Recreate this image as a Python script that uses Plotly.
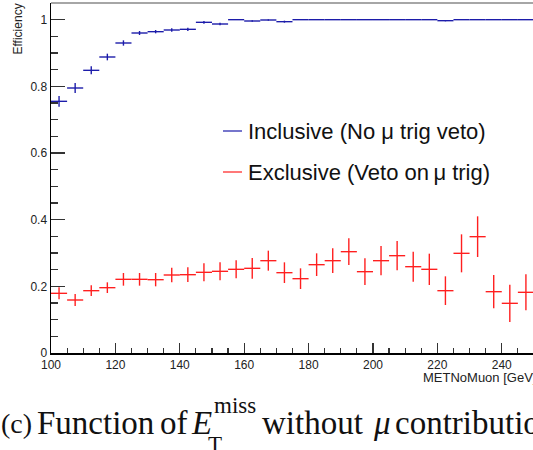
import plotly.graph_objects as go

# ---- data ----
bin_centers = [102.5 + 5 * i for i in range(30)]
bin_half_width = [2.5] * 30
inclusive = [0.755, 0.795, 0.848, 0.888, 0.930, 0.960, 0.964, 0.969, 0.971, 0.992,
             0.987, 1.000, 0.996, 0.999, 0.994, 1.000, 1.000, 1.000, 1.000, 1.000,
             1.000, 1.000, 1.000, 1.000, 0.997, 1.000, 1.000, 1.000, 1.000, 1.000]
inclusive_err = [0.016, 0.015, 0.012, 0.010, 0.008, 0.006, 0.005, 0.005, 0.005, 0.004,
                 0.004, 0.001, 0.002, 0.002, 0.003, 0.001, 0.001, 0.001, 0.001, 0.001,
                 0.001, 0.001, 0.001, 0.001, 0.002, 0.001, 0.001, 0.001, 0.001, 0.001]
exclusive = [0.179, 0.159, 0.187, 0.196, 0.221, 0.221, 0.220, 0.234, 0.235, 0.242,
             0.245, 0.251, 0.254, 0.277, 0.241, 0.223, 0.265, 0.277, 0.304, 0.244,
             0.277, 0.292, 0.259, 0.251, 0.187, 0.299, 0.349, 0.184, 0.149, 0.182]
exclusive_err = [0.018, 0.018, 0.016, 0.016, 0.019, 0.019, 0.020, 0.022, 0.022, 0.027,
                 0.027, 0.027, 0.031, 0.030, 0.031, 0.031, 0.034, 0.037, 0.040, 0.040,
                 0.044, 0.044, 0.045, 0.047, 0.043, 0.057, 0.061, 0.050, 0.056, 0.054]
y_tick_vals = [0, 0.2, 0.4, 0.6, 0.8, 1.0]
y_tick_text = ["0", "0.2", "0.4", "0.6", "0.8", "1"]
x_tick_vals = [100, 120, 140, 160, 180, 200, 220, 240]
x_tick_text = ["100", "120", "140", "160", "180", "200", "220", "240"]
legend_labels = ["Inclusive (No \u03bc trig veto)", "Exclusive (Veto on\u2009\u03bc trig)"]

BLUE = "#1c1caa"
RED = "#ff1f1f"

W, H = 533, 450
ML, MR, MT, MB = 51, 0, 3, 97
PW, PH = W - ML - MR, H - MT - MB


def px(x):
    return (x - ML) / PW


def py(y):
    return (H - MB - y) / PH


fig = go.Figure()
for vals, errs, col in [(inclusive, inclusive_err, BLUE), (exclusive, exclusive_err, RED)]:
    fig.add_trace(go.Scatter(
        x=bin_centers, y=vals, mode="markers",
        marker=dict(size=1, color=col, opacity=0),
        error_x=dict(type="data", array=bin_half_width, width=0, thickness=1.4, color=col),
        error_y=dict(type="data", array=errs, width=0, thickness=1.4, color=col),
        showlegend=False, hoverinfo="skip", cliponaxis=True,
    ))

font_axis = dict(family="Liberation Sans, Arial, sans-serif", size=12, color="#222")

fig.update_xaxes(
    range=[100, 249.7], showgrid=False, zeroline=False, automargin=False,
    showline=True, linecolor="black", linewidth=1.5,
    ticks="inside", ticklen=10, tickwidth=1.2, tickcolor="#333",
    tickvals=x_tick_vals, ticktext=x_tick_text, tickfont=font_axis,
    minor=dict(dtick=5, tick0=100, ticks="inside", ticklen=5, tickwidth=1.2, tickcolor="#333"),
)
fig.update_yaxes(
    range=[0, 1.05], showgrid=False, zeroline=False, automargin=False,
    showline=True, linecolor="black", linewidth=1.5,
    ticks="inside", ticklen=14, tickwidth=1.2, tickcolor="#333",
    tickvals=y_tick_vals, ticktext=y_tick_text, tickfont=font_axis,
    minor=dict(dtick=0.05, tick0=0, ticks="inside", ticklen=7, tickwidth=1.2, tickcolor="#333"),
)

shapes = [dict(type="line", xref="paper", yref="paper", x0=0, x1=1, y0=1, y1=1,
               line=dict(color="#888", width=1.5))]
annotations = []
# legend
for lab, col, ypix in [(legend_labels[0], BLUE, 131), (legend_labels[1], RED, 172)]:
    shapes.append(dict(type="line", xref="paper", yref="paper",
                       x0=px(223), x1=px(242), y0=py(ypix), y1=py(ypix),
                       line=dict(color=col, width=1.2)))
    annotations.append(dict(text=lab, xref="paper", yref="paper", x=px(246), y=py(ypix),
                            xanchor="left", yanchor="middle", showarrow=False,
                            font=dict(family="Liberation Sans, Arial, sans-serif", size=22, color="#111")))

# axis titles
annotations.append(dict(text="Efficiency", xref="paper", yref="paper", x=px(18), y=py(2),
                        xanchor="center", yanchor="top", textangle=-90, showarrow=False,
                        font=dict(family="Liberation Sans, Arial, sans-serif", size=12, color="#222")))
annotations.append(dict(text="METNoMuon [GeV]", xref="paper", yref="paper", x=px(421), y=py(377),
                        xanchor="left", yanchor="middle", showarrow=False,
                        font=dict(family="Liberation Sans, Arial, sans-serif", size=13, color="#222")))

# caption (word by word)
serif = "Liberation Serif, Times New Roman, serif"
cap_y = 423
cap_size = 33
for word, xpos, size in [("(c)", -1, 28), ("Function", 35, cap_size), ("of", 158, cap_size),
                         ("without", 260, cap_size), ("contribution", 393, cap_size)]:
    annotations.append(dict(text=word, xref="paper", yref="paper", x=px(xpos), y=py(cap_y),
                            xanchor="left", yanchor="middle", showarrow=False,
                            font=dict(family=serif, size=size, color="#111")))
annotations.append(dict(text="<i>E</i>", xref="paper", yref="paper", x=px(189), y=py(cap_y),
                        xanchor="left", yanchor="middle", showarrow=False,
                        font=dict(family=serif, size=cap_size, color="#111")))
annotations.append(dict(text="miss", xref="paper", yref="paper", x=px(212), y=py(405),
                        xanchor="left", yanchor="middle", showarrow=False,
                        font=dict(family=serif, size=23, color="#111")))
annotations.append(dict(text="T", xref="paper", yref="paper", x=px(206), y=py(444),
                        xanchor="left", yanchor="middle", showarrow=False,
                        font=dict(family=serif, size=23, color="#111")))
annotations.append(dict(text="<i>\u03bc</i>", xref="paper", yref="paper", x=px(371), y=py(cap_y),
                        xanchor="left", yanchor="middle", showarrow=False,
                        font=dict(family=serif, size=cap_size, color="#111")))

fig.update_layout(
    width=W, height=H, margin=dict(l=ML, r=MR, t=MT, b=MB, autoexpand=False),
    paper_bgcolor="white", plot_bgcolor="white",
    shapes=shapes, annotations=annotations, showlegend=False,
)

fig.write_html("out.html", config={"displayModeBar": False, "staticPlot": True},
               post_script="document.body.style.margin='0';document.body.style.overflow='hidden';")
